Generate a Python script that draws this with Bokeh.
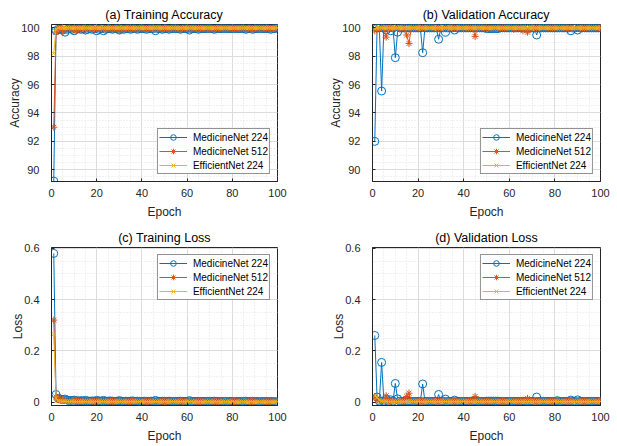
from bokeh.plotting import figure
from bokeh.layouts import gridplot
from bokeh.models import FixedTicker
from bokeh.embed import file_html
from bokeh.resources import INLINE

epochs = list(range(1, 101))
series_names = ["MedicineNet 224", "MedicineNet 512", "EfficientNet 224"]
x_ticks = [0, 20, 40, 60, 80, 100]
acc_ticks = [90, 92, 94, 96, 98, 100]
loss_ticks = [0, 0.2, 0.4, 0.6]
loss_tick_labels = ["0", "0.2", "0.4", "0.6"]

# (a) Training accuracy
train_acc_mn224 = [
    89.2, 99.8, 99.9, 99.9, 99.85, 99.7, 99.9, 99.95, 99.9, 99.8,
    99.9, 99.95, 99.9, 99.95, 99.85, 99.9, 99.95, 99.9, 99.95, 99.8,
    99.9, 99.95, 99.8, 99.9, 99.95, 99.95, 99.9, 99.95, 99.95, 99.85,
    99.95, 99.9, 99.95, 99.95, 99.9, 99.95, 99.95, 99.9, 99.95, 99.95,
    99.95, 99.9, 99.95, 99.95, 99.95, 99.8, 99.95, 99.95, 99.9, 99.95,
    99.95, 99.9, 99.95, 99.95, 99.95, 99.95, 99.9, 99.95, 99.95, 99.95,
    99.85, 99.95, 99.95, 99.95, 99.9, 99.95, 99.95, 99.95, 99.95, 99.95,
    99.95, 99.9, 99.95, 99.95, 99.95, 99.95, 99.95, 99.95, 99.95, 99.95,
    99.95, 99.95, 99.95, 99.95, 99.95, 99.9, 99.95, 99.95, 99.9, 99.95,
    99.95, 99.95, 99.95, 99.95, 99.95, 99.95, 99.9, 99.95, 99.95, 100.0]
train_acc_mn512 = [
    93.0, 99.7, 99.9, 99.95, 99.75, 99.9, 99.95, 99.95, 99.9, 99.95,
    99.8, 99.95, 99.95, 99.95, 99.9, 99.95, 99.95, 99.95, 99.9, 99.95,
    99.95, 99.95, 99.95, 99.9, 99.95, 99.95, 99.95, 99.95, 99.95, 99.8,
    99.95, 99.95, 99.95, 99.95, 99.95, 99.95, 99.9, 99.95, 99.95, 99.95,
    99.95, 99.95, 99.95, 99.95, 99.95, 99.95, 99.95, 99.95, 99.95, 99.95,
    99.95, 99.95, 99.95, 99.95, 99.95, 99.95, 99.9, 99.95, 99.95, 99.95,
    99.95, 99.95, 99.95, 99.95, 99.95, 99.95, 99.95, 99.95, 99.95, 99.9,
    99.95, 99.95, 99.95, 99.95, 99.95, 99.95, 99.95, 99.95, 99.95, 99.95,
    99.95, 99.95, 99.95, 99.95, 99.95, 99.95, 99.95, 99.9, 99.95, 99.95,
    99.95, 99.95, 99.95, 99.95, 99.95, 99.95, 99.95, 99.95, 99.95, 100.0]
train_acc_en224 = [
    98.2, 99.9, 100.0, 100.0, 100.0, 100.0, 100.0, 100.0, 100.0, 100.0,
    100.0, 100.0, 100.0, 100.0, 100.0, 100.0, 100.0, 100.0, 100.0, 100.0,
    100.0, 100.0, 100.0, 100.0, 100.0, 100.0, 100.0, 100.0, 100.0, 100.0,
    100.0, 100.0, 100.0, 100.0, 100.0, 100.0, 100.0, 100.0, 100.0, 100.0,
    100.0, 100.0, 100.0, 100.0, 100.0, 100.0, 100.0, 100.0, 100.0, 100.0,
    100.0, 100.0, 100.0, 100.0, 100.0, 100.0, 100.0, 100.0, 100.0, 100.0,
    100.0, 100.0, 100.0, 100.0, 100.0, 100.0, 100.0, 100.0, 100.0, 100.0,
    100.0, 100.0, 100.0, 100.0, 100.0, 100.0, 100.0, 100.0, 100.0, 100.0,
    100.0, 100.0, 100.0, 100.0, 100.0, 100.0, 100.0, 100.0, 100.0, 100.0,
    100.0, 100.0, 100.0, 100.0, 100.0, 100.0, 100.0, 100.0, 100.0, 100.0]

# (b) Validation accuracy
val_acc_mn224 = [
    92.0, 100.0, 100.0, 95.55, 100.0, 99.85, 100.0, 99.8, 100.0, 97.9,
    99.7, 100.0, 100.0, 100.0, 100.0, 100.0, 100.0, 100.0, 100.0, 100.0,
    100.0, 98.25, 100.0, 100.0, 100.0, 100.0, 100.0, 100.0, 99.2, 100.0,
    100.0, 99.7, 100.0, 100.0, 100.0, 99.85, 100.0, 100.0, 100.0, 100.0,
    100.0, 100.0, 100.0, 100.0, 100.0, 100.0, 100.0, 100.0, 100.0, 99.95,
    99.95, 99.95, 99.95, 99.95, 99.95, 100.0, 100.0, 100.0, 100.0, 100.0,
    100.0, 100.0, 100.0, 100.0, 100.0, 100.0, 100.0, 100.0, 100.0, 100.0,
    100.0, 99.5, 100.0, 100.0, 100.0, 100.0, 100.0, 100.0, 100.0, 100.0,
    100.0, 100.0, 100.0, 100.0, 100.0, 100.0, 99.8, 100.0, 100.0, 99.85,
    100.0, 100.0, 100.0, 100.0, 100.0, 100.0, 100.0, 100.0, 100.0, 100.0]
val_acc_mn512 = [
    99.8, 100.0, 99.9, 100.0, 100.0, 99.35, 100.0, 100.0, 99.95, 100.0,
    100.0, 99.95, 100.0, 100.0, 99.5, 98.9, 100.0, 100.0, 100.0, 100.0,
    100.0, 100.0, 100.0, 100.0, 100.0, 100.0, 100.0, 100.0, 99.95, 100.0,
    100.0, 100.0, 100.0, 100.0, 100.0, 100.0, 100.0, 100.0, 100.0, 99.95,
    100.0, 100.0, 100.0, 100.0, 99.4, 100.0, 100.0, 100.0, 100.0, 100.0,
    100.0, 100.0, 100.0, 100.0, 100.0, 100.0, 100.0, 100.0, 100.0, 100.0,
    100.0, 99.9, 100.0, 100.0, 100.0, 99.8, 100.0, 99.7, 99.9, 100.0,
    100.0, 100.0, 100.0, 100.0, 100.0, 100.0, 100.0, 100.0, 100.0, 100.0,
    100.0, 100.0, 100.0, 100.0, 100.0, 100.0, 100.0, 100.0, 100.0, 100.0,
    100.0, 100.0, 100.0, 100.0, 100.0, 100.0, 100.0, 100.0, 100.0, 100.0]
val_acc_en224 = [
    99.95, 100.0, 100.0, 100.0, 100.0, 100.0, 100.0, 100.0, 100.0, 100.0,
    100.0, 100.0, 100.0, 100.0, 100.0, 100.0, 100.0, 100.0, 100.0, 100.0,
    100.0, 100.0, 100.0, 100.0, 100.0, 100.0, 100.0, 100.0, 100.0, 100.0,
    100.0, 100.0, 100.0, 100.0, 100.0, 100.0, 100.0, 100.0, 100.0, 100.0,
    100.0, 100.0, 100.0, 100.0, 100.0, 100.0, 100.0, 100.0, 100.0, 100.0,
    100.0, 100.0, 100.0, 100.0, 100.0, 100.0, 100.0, 100.0, 100.0, 100.0,
    100.0, 100.0, 100.0, 100.0, 100.0, 100.0, 100.0, 100.0, 100.0, 100.0,
    100.0, 100.0, 100.0, 100.0, 100.0, 100.0, 100.0, 100.0, 100.0, 100.0,
    100.0, 100.0, 100.0, 100.0, 100.0, 100.0, 100.0, 100.0, 100.0, 100.0,
    100.0, 100.0, 100.0, 100.0, 100.0, 100.0, 100.0, 100.0, 100.0, 100.0]

# (c) Training loss
train_loss_mn224 = [
    0.58, 0.03, 0.015, 0.012, 0.01, 0.012, 0.008, 0.006, 0.007, 0.008,
    0.006, 0.005, 0.006, 0.005, 0.007, 0.005, 0.004, 0.005, 0.004, 0.007,
    0.005, 0.004, 0.007, 0.004, 0.004, 0.005, 0.004, 0.003, 0.004, 0.006,
    0.004, 0.003, 0.004, 0.003, 0.004, 0.005, 0.003, 0.004, 0.003, 0.003,
    0.004, 0.003, 0.003, 0.004, 0.003, 0.007, 0.003, 0.003, 0.004, 0.003,
    0.003, 0.004, 0.003, 0.003, 0.003, 0.003, 0.004, 0.003, 0.003, 0.003,
    0.006, 0.003, 0.003, 0.003, 0.003, 0.003, 0.003, 0.003, 0.003, 0.003,
    0.003, 0.004, 0.003, 0.003, 0.002, 0.003, 0.003, 0.002, 0.003, 0.003,
    0.002, 0.003, 0.003, 0.002, 0.003, 0.004, 0.002, 0.003, 0.003, 0.002,
    0.003, 0.002, 0.003, 0.002, 0.003, 0.002, 0.003, 0.002, 0.002, 0.002]
train_loss_mn512 = [
    0.32, 0.02, 0.012, 0.008, 0.01, 0.006, 0.005, 0.006, 0.004, 0.005,
    0.008, 0.005, 0.004, 0.004, 0.005, 0.004, 0.004, 0.003, 0.004, 0.004,
    0.003, 0.004, 0.003, 0.004, 0.003, 0.003, 0.004, 0.003, 0.003, 0.007,
    0.003, 0.003, 0.004, 0.003, 0.003, 0.003, 0.004, 0.003, 0.003, 0.003,
    0.003, 0.003, 0.004, 0.003, 0.003, 0.003, 0.003, 0.003, 0.003, 0.003,
    0.003, 0.003, 0.003, 0.003, 0.003, 0.003, 0.005, 0.003, 0.003, 0.003,
    0.003, 0.002, 0.003, 0.003, 0.003, 0.002, 0.003, 0.003, 0.003, 0.003,
    0.002, 0.003, 0.003, 0.002, 0.003, 0.003, 0.002, 0.003, 0.003, 0.002,
    0.003, 0.002, 0.003, 0.003, 0.002, 0.003, 0.002, 0.003, 0.002, 0.003,
    0.002, 0.003, 0.002, 0.002, 0.003, 0.002, 0.002, 0.003, 0.002, 0.002]
train_loss_en224 = [
    0.265, 0.015, 0.005, 0.004, 0.003, 0.003, 0.002, 0.002, 0.003, 0.002,
    0.002, 0.002, 0.002, 0.002, 0.002, 0.002, 0.002, 0.002, 0.002, 0.002,
    0.002, 0.002, 0.002, 0.002, 0.002, 0.002, 0.002, 0.002, 0.002, 0.002,
    0.002, 0.002, 0.002, 0.002, 0.002, 0.002, 0.002, 0.002, 0.002, 0.002,
    0.002, 0.002, 0.002, 0.002, 0.002, 0.002, 0.002, 0.002, 0.002, 0.002,
    0.002, 0.002, 0.002, 0.002, 0.002, 0.002, 0.002, 0.002, 0.002, 0.002,
    0.001, 0.002, 0.001, 0.002, 0.001, 0.002, 0.001, 0.002, 0.001, 0.002,
    0.001, 0.002, 0.001, 0.002, 0.001, 0.002, 0.001, 0.002, 0.001, 0.002,
    0.001, 0.001, 0.001, 0.002, 0.001, 0.001, 0.001, 0.002, 0.001, 0.001,
    0.001, 0.001, 0.001, 0.001, 0.001, 0.001, 0.001, 0.001, 0.001, 0.001]

# (d) Validation loss
val_loss_mn224 = [
    0.26, 0.02, 0.004, 0.155, 0.004, 0.012, 0.004, 0.009, 0.004, 0.073,
    0.013, 0.004, 0.003, 0.004, 0.003, 0.003, 0.003, 0.003, 0.003, 0.003,
    0.003, 0.071, 0.003, 0.003, 0.003, 0.003, 0.003, 0.003, 0.03, 0.003,
    0.004, 0.012, 0.003, 0.003, 0.003, 0.008, 0.003, 0.003, 0.003, 0.003,
    0.003, 0.003, 0.003, 0.003, 0.003, 0.003, 0.003, 0.003, 0.003, 0.004,
    0.004, 0.004, 0.004, 0.004, 0.004, 0.003, 0.003, 0.003, 0.003, 0.003,
    0.003, 0.003, 0.003, 0.003, 0.003, 0.003, 0.003, 0.003, 0.003, 0.003,
    0.003, 0.02, 0.003, 0.003, 0.003, 0.003, 0.003, 0.003, 0.003, 0.003,
    0.006, 0.003, 0.003, 0.003, 0.003, 0.003, 0.008, 0.003, 0.003, 0.009,
    0.003, 0.003, 0.003, 0.003, 0.003, 0.003, 0.003, 0.003, 0.003, 0.003]
val_loss_mn512 = [
    0.02, 0.008, 0.005, 0.004, 0.005, 0.025, 0.004, 0.004, 0.005, 0.004,
    0.004, 0.005, 0.004, 0.004, 0.022, 0.035, 0.004, 0.004, 0.004, 0.004,
    0.004, 0.004, 0.004, 0.004, 0.004, 0.004, 0.004, 0.004, 0.005, 0.004,
    0.004, 0.004, 0.004, 0.004, 0.004, 0.004, 0.004, 0.004, 0.004, 0.005,
    0.004, 0.004, 0.004, 0.004, 0.022, 0.004, 0.004, 0.004, 0.004, 0.004,
    0.004, 0.004, 0.004, 0.004, 0.004, 0.004, 0.004, 0.004, 0.004, 0.004,
    0.004, 0.007, 0.004, 0.004, 0.004, 0.008, 0.004, 0.015, 0.006, 0.004,
    0.004, 0.004, 0.004, 0.004, 0.004, 0.004, 0.004, 0.004, 0.004, 0.004,
    0.004, 0.004, 0.004, 0.004, 0.004, 0.004, 0.004, 0.004, 0.004, 0.004,
    0.004, 0.004, 0.004, 0.004, 0.004, 0.004, 0.004, 0.004, 0.004, 0.004]
val_loss_en224 = [
    0.025, 0.018, 0.008, 0.004, 0.003, 0.003, 0.002, 0.002, 0.002, 0.002,
    0.002, 0.002, 0.002, 0.002, 0.002, 0.002, 0.002, 0.002, 0.002, 0.002,
    0.002, 0.002, 0.002, 0.002, 0.002, 0.002, 0.002, 0.002, 0.002, 0.002,
    0.002, 0.002, 0.002, 0.002, 0.002, 0.002, 0.002, 0.002, 0.002, 0.002,
    0.002, 0.002, 0.002, 0.002, 0.002, 0.002, 0.002, 0.002, 0.002, 0.002,
    0.002, 0.002, 0.002, 0.002, 0.002, 0.002, 0.002, 0.002, 0.002, 0.002,
    0.002, 0.002, 0.002, 0.002, 0.002, 0.002, 0.002, 0.002, 0.002, 0.002,
    0.002, 0.002, 0.002, 0.002, 0.002, 0.002, 0.002, 0.002, 0.002, 0.002,
    0.002, 0.002, 0.002, 0.002, 0.002, 0.002, 0.002, 0.002, 0.002, 0.002,
    0.002, 0.002, 0.002, 0.002, 0.002, 0.002, 0.002, 0.002, 0.002, 0.002]

COLORS = ["#0072BD", "#D95319", "#EDB120"]
MARKERS = ["circle", "asterisk", "x"]
MSIZES = [8, 7, 6]
FONT = "Liberation Sans"
DARK = "#262626"


def make_panel(title, ylabel, series, y_range, yticks, yminor, overrides,
               legend_loc, width, height, border_l, border_r, border_t, border_b):
    p = figure(width=width, height=height, x_range=(0, 100), y_range=y_range,
               title=title, output_backend="svg", toolbar_location=None,
               min_border_left=border_l, min_border_right=border_r,
               min_border_top=border_t, min_border_bottom=border_b,
               background_fill_color="white", border_fill_color="white")
    p.title.text_font = FONT
    p.title.text_font_size = "12.5px"
    p.title.text_font_style = "normal"
    p.title.text_color = "#000000"
    p.title.align = "center"
    p.title.standoff = 5

    p.xaxis.ticker = FixedTicker(ticks=x_ticks, minor_ticks=list(range(0, 101, 5)))
    p.yaxis.ticker = FixedTicker(ticks=yticks, minor_ticks=yminor)
    if overrides:
        p.yaxis.major_label_overrides = overrides
    p.xaxis.axis_label = "Epoch"
    p.yaxis.axis_label = ylabel
    for ax in p.axis:
        ax.axis_line_color = DARK
        ax.major_tick_line_color = DARK
        ax.major_tick_in = 3
        ax.major_tick_out = 0
        ax.minor_tick_line_color = None
        ax.major_label_text_font = FONT
        ax.major_label_text_font_size = "11px"
        ax.major_label_text_color = DARK
        ax.axis_label_text_font = FONT
        ax.axis_label_text_font_size = "12px"
        ax.axis_label_text_font_style = "normal"
        ax.axis_label_text_color = DARK
    p.xaxis.major_label_standoff = 3
    p.xaxis.axis_label_standoff = 5
    p.yaxis.major_label_standoff = 8
    p.yaxis.axis_label_standoff = -4

    for g in (p.xgrid, p.ygrid):
        g.grid_line_color = "#dcdcdc"
        g.grid_line_width = 1
        g.minor_grid_line_color = "#e3e3e3"
        g.minor_grid_line_dash = "1 2"
        g.minor_grid_line_width = 1

    p.outline_line_color = DARK
    p.outline_line_alpha = 1
    p.outline_line_width = 1

    for name, ys, c, m, s in zip(series_names, series, COLORS, MARKERS, MSIZES):
        p.line(epochs, ys, line_color=c, line_width=1, legend_label=name)
        p.scatter(epochs, ys, marker=m, size=s, line_color=c, fill_color=None,
                  line_width=1, legend_label=name)

    lg = p.legend[0]
    lg.location = legend_loc
    lg.margin = 7
    lg.padding = 1
    lg.spacing = 0
    lg.glyph_width = 28
    lg.glyph_height = 14
    lg.label_height = 14
    lg.label_standoff = 6
    lg.label_text_font = FONT
    lg.label_text_font_size = "10px"
    lg.label_text_color = "#000000"
    lg.border_line_color = DARK
    lg.border_line_width = 1
    lg.background_fill_color = "white"
    lg.background_fill_alpha = 1
    return p


acc_minor = [89.5 + 0.5 * i for i in range(22)]
loss_minor = [0.05 * i for i in range(13)]
loss_over = {t: l for t, l in zip(loss_ticks, loss_tick_labels)}

pa = make_panel("(a) Training Accuracy", "Accuracy",
                [train_acc_mn224, train_acc_mn512, train_acc_en224],
                (89.17, 100.24), acc_ticks, acc_minor, None, "bottom_right",
                321, 221, 51, 44, 24, 40)
pb = make_panel("(b) Validation Accuracy", "Accuracy",
                [val_acc_mn224, val_acc_mn512, val_acc_en224],
                (89.17, 100.24), acc_ticks, acc_minor, None, "bottom_right",
                296, 221, 51, 17, 24, 40)
pc = make_panel("(c) Training Loss", "Loss",
                [train_loss_mn224, train_loss_mn512, train_loss_en224],
                (-0.013, 0.603), loss_ticks, loss_minor, loss_over, "top_right",
                321, 225, 51, 44, 26, 41)
pd_ = make_panel("(d) Validation Loss", "Loss",
                 [val_loss_mn224, val_loss_mn512, val_loss_en224],
                 (-0.013, 0.603), loss_ticks, loss_minor, loss_over, "top_right",
                 296, 225, 51, 17, 26, 41)

grid = gridplot([[pa, pb], [pc, pd_]], toolbar_location=None)

open("out.html", "w").write(file_html(grid, INLINE))
